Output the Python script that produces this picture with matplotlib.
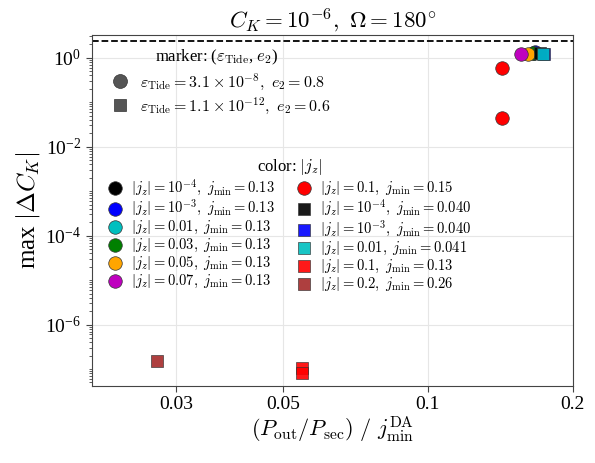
import matplotlib
matplotlib.use("Agg")
import matplotlib.pyplot as plt
from matplotlib.lines import Line2D
from matplotlib.ticker import LogLocator, NullLocator, NullFormatter

plt.rcParams['font.family'] = ['Liberation Serif', 'DejaVu Serif']
plt.rcParams['mathtext.fontset'] = 'cm'

# =========================
# Données
# =========================
# cercles : eps_Tide = 3.1e-8, e2 = 0.8
circ_labels = [
    r"$|j_z| = 10^{-4},\ j_{\rm min} = 0.13$",
    r"$|j_z| = 10^{-3},\ j_{\rm min} = 0.13$",
    r"$|j_z| = 0.01,\ j_{\rm min} = 0.13$",
    r"$|j_z| = 0.03,\ j_{\rm min} = 0.13$",
    r"$|j_z| = 0.05,\ j_{\rm min} = 0.13$",
    r"$|j_z| = 0.07,\ j_{\rm min} = 0.13$",
    r"$|j_z| = 0.1,\ j_{\rm min} = 0.15$",
]
circ_colors = ['k', 'b', 'c', 'g', 'orange', 'm', 'r']
circ_x = [[0.166], [0.167], [0.166], [0.1656], [0.1617], [0.156], [0.1423, 0.1423]]
circ_y = [[1.25], [1.35], [1.26], [1.26], [1.19], [1.21], [0.578, 0.0449]]

# carrés : eps_Tide = 1.1e-12, e2 = 0.6
sq_labels = [
    r"$|j_z| = 10^{-4},\ j_{\rm min} = 0.040$",
    r"$|j_z| = 10^{-3},\ j_{\rm min} = 0.040$",
    r"$|j_z| = 0.01,\ j_{\rm min} = 0.041$",
    r"$|j_z| = 0.1,\ j_{\rm min} = 0.13$",
    r"$|j_z| = 0.2,\ j_{\rm min} = 0.26$",
]
sq_colors = ['k', 'b', 'c', 'r', 'brown']
sq_x = [[0.171], [0.1745], [0.1733], [0.0547, 0.0547], [0.02734]]
sq_y = [[1.30], [1.18], [1.24], [1.08e-7, 8.1e-8], [1.55e-7]]

marker_labels = [r"$\varepsilon_{\rm Tide} = 3.1\times10^{-8},\ e_2 = 0.8$",
                 r"$\varepsilon_{\rm Tide} = 1.1\times10^{-12},\ e_2 = 0.6$"]

threshold = 2.43
xticks = [0.03, 0.05, 0.1, 0.2]
xtick_labels = ["0.03", "0.05", "0.1", "0.2"]
yticks = [1e0, 1e-2, 1e-4, 1e-6]

# =========================
# Figure
# =========================
fig = plt.figure(figsize=(5.95, 4.63), dpi=100)
ax = fig.add_axes([0.154, 0.1663, 0.8085, 0.7581])

handles = []
for xs, ys, c, lab in zip(circ_x, circ_y, circ_colors, circ_labels):
    h = ax.scatter(xs, ys, s=95, marker='o', c=c, edgecolors='#333333',
                   linewidths=0.5, label=lab, zorder=3)
    handles.append(h)
for xs, ys, c, lab in zip(sq_x, sq_y, sq_colors, sq_labels):
    h = ax.scatter(xs, ys, s=85, marker='s', c=c, edgecolors='#333333',
                   linewidths=0.5, label=lab, zorder=3, alpha=0.9)
    handles.append(h)

ax.axhline(threshold, color='k', ls='--', lw=1.3, zorder=2)

ax.set_xscale('log')
ax.set_yscale('log')
ax.set_xlim(0.02, 0.2)
ax.set_ylim(10**-7.38, 10**0.51)
ax.set_xticks(xticks)
ax.set_xticklabels(xtick_labels)
ax.xaxis.set_minor_locator(NullLocator())
ax.set_yticks(yticks)
ax.yaxis.set_minor_locator(LogLocator(base=10, subs=range(1, 10), numticks=30))
ax.yaxis.set_minor_formatter(NullFormatter())
ax.tick_params(axis='both', which='major', labelsize=14, length=4, color='#444444')
ax.tick_params(axis='y', which='minor', length=2, color='#444444')
ax.grid(True, which='major', color='#e6e6e6', lw=0.8, zorder=0)
ax.set_axisbelow(True)
for sp in ax.spines.values():
    sp.set_color('#444444')

ax.set_title(r"$C_K = 10^{-6},\ \Omega = 180^{\circ}$", fontsize=16.5, pad=5)
ax.set_ylabel(r"max $|\Delta C_K|$", fontsize=18, labelpad=2)
ax.set_xlabel(r"$(P_{\rm out}/P_{\rm sec})\ /\ j_{\rm min}^{\rm DA}$", fontsize=16, labelpad=1)

# légende des marqueurs
mk = [Line2D([], [], marker='o', ls='', ms=10, mfc='#555555', mec='#333333', mew=0.5),
      Line2D([], [], marker='s', ls='', ms=9, mfc='#555555', mec='#333333', mew=0.5)]
leg1 = ax.legend(mk, marker_labels, loc='upper left',
                 bbox_to_anchor=(0.01, 0.938), frameon=False, fontsize=11.5,
                 handlelength=1.2, handletextpad=0.6, labelspacing=0.25)
ax.add_artist(leg1)
ax.text(0.26, 0.935, r"marker: ($\varepsilon_{\rm Tide}$, $e_2$)", transform=ax.transAxes,
        ha='center', va='center', fontsize=12)

# légende des couleurs
ax.legend(handles=handles, title=r"color: $|j_z|$", ncol=2, loc='upper center',
          bbox_to_anchor=(0.412, 0.69), frameon=False, fontsize=10.5,
          title_fontsize=12, handlelength=1.0, handletextpad=0.6, labelspacing=0.05,
          columnspacing=1.5, scatterpoints=1)

fig.savefig("out.png", dpi=100)
